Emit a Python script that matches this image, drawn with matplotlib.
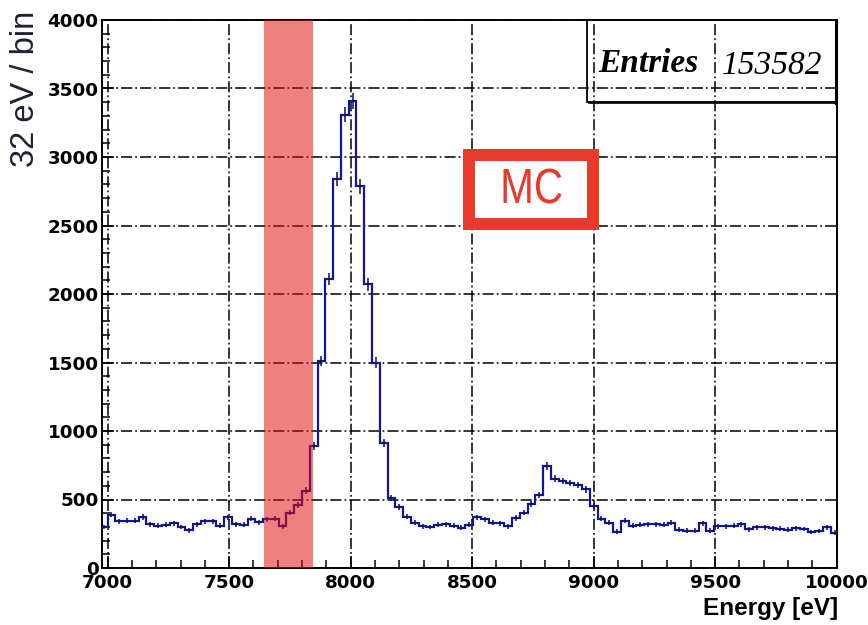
import numpy as np
import matplotlib
matplotlib.use("Agg")
from matplotlib import pyplot as plt
from matplotlib import patches
from matplotlib.ticker import MultipleLocator
from matplotlib.textpath import TextPath
from matplotlib.font_manager import FontProperties
from matplotlib.transforms import Affine2D

# histogram: 32 eV bins, first edge at 6968 eV
bin_width = 32
first_edge = 6968
counts = [300, 390, 340, 345, 345, 372, 320, 310, 315, 325,
          300, 275, 320, 340, 340, 310, 370, 320, 315, 360,
          335, 355, 360, 305, 405, 460, 565, 890, 1510, 2110,
          2840, 3310, 3410, 2785, 2070, 1500, 910, 510, 445, 375,
          330, 305, 300, 315, 320, 310, 295, 315, 370, 355,
          330, 328, 305, 365, 405, 465, 535, 745, 650, 635,
          620, 605, 575, 450, 360, 330, 265, 345, 310, 315,
          320, 320, 316, 330, 280, 272, 272, 325, 272, 305,
          305, 310, 320, 282, 296, 298, 290, 288, 280, 290,
          284, 262, 270, 296, 258]
entries = 153582
band = (7645, 7845)
x_range = (6977, 10000)
y_range = (0, 4000)

plt.rcParams['lines.scale_dashes'] = False

counts = np.array(counts, dtype=float)
edges = first_edge + bin_width * np.arange(len(counts) + 1)
centers = 0.5 * (edges[:-1] + edges[1:])

fig = plt.figure(figsize=(8.68, 6.25), dpi=100)
ax = fig.add_axes([102/868, 1 - 568/625, 734.7/868, 548/625])

line_col = '#14149a'
ax.stairs(counts, edges, baseline=None, color=line_col, lw=1.6, zorder=3)
ax.errorbar(centers, counts, yerr=np.sqrt(counts), fmt='none',
            ecolor='#101050', elinewidth=1.1, zorder=3)

# selected energy window
ax.axvspan(band[0], band[1], color='#e20f0f', alpha=0.53, lw=0, zorder=5)

ax.set_xlim(*x_range)
ax.set_ylim(*y_range)
ax.xaxis.set_major_locator(MultipleLocator(500))
ax.xaxis.set_minor_locator(MultipleLocator(100))
ax.yaxis.set_major_locator(MultipleLocator(500))
ax.yaxis.set_minor_locator(MultipleLocator(100))
ax.grid(True, which='major', color='black', lw=1.1,
        linestyle=(0, (8, 2.2, 1.3, 2.2)), zorder=1)
ax.set_axisbelow(True)

ax.tick_params(which='both', direction='in', top=False, right=False)
ax.tick_params(which='major', length=8.5, width=1.1)
ax.tick_params(which='minor', length=5.8, width=1.1)
ax.tick_params(axis='x', pad=4.5)
ax.tick_params(axis='y', pad=2.5)
for lab in ax.get_xticklabels() + ax.get_yticklabels():
    lab.set_fontfamily('DejaVu Sans')
    lab.set_fontweight('bold')
    lab.set_fontsize(13.2)
for sp in ax.spines.values():
    sp.set_linewidth(1.4)

fig.text(838/868, 1 - 609/625, 'Energy [eV]', ha='right', va='center',
         fontsize=17.5, fontweight='bold', family='Liberation Sans')
fig.text(26/868, 1 - 11/625, '32 eV / bin', ha='center', va='top',
         rotation=90, fontsize=23.5, family='Liberation Sans', color='#1c2230')

# stats box (transparent, grid shows through)
fig.patches.append(patches.Rectangle((587/868, 1 - 101.7/625), 249.7/868, 81.7/625,
                                     transform=fig.transFigure, fill=False,
                                     ec='black', lw=1.3))
fig.add_artist(plt.Line2D([836/868, 836/868], [1 - 103/625, 1 - 21/625],
                          transform=fig.transFigure, color='black', lw=2.2))
fig.add_artist(plt.Line2D([589/868, 836/868], [1 - 103/625, 1 - 103/625],
                          transform=fig.transFigure, color='black', lw=1.2))
fig.text(598/868, 1 - 72/625, 'Entries', ha='left', va='baseline',
         fontsize=24, family='Liberation Serif', style='italic', fontweight='bold')
fig.text(822/868, 1 - 73.5/625, f'{entries}', ha='right', va='baseline',
         fontsize=24, family='Liberation Serif', style='italic')

# MC label box
mc_col = '#e8392b'
fig.patches.append(patches.Rectangle((468.8/868, 1 - 224.2/625), 124/868, 68.7/625,
                                     transform=fig.transFigure, fc='white',
                                     ec=mc_col, lw=8.6, joinstyle='miter'))
# narrow "MC": squeeze the glyph outlines horizontally (pixel units)
tp = TextPath((0, 0), 'MC', size=48, prop=FontProperties(family='Liberation Sans'))
bb = tp.get_extents()
squeeze = Affine2D().translate(-(bb.x0 + bb.x1) / 2, -(bb.y0 + bb.y1) / 2) \
    .scale(58 / bb.width, 35 / bb.height).translate(532.5, 625 - 186)
fig.patches.append(patches.PathPatch(squeeze.transform_path(tp), fc=mc_col, lw=0,
                                     transform=None))

fig.savefig('out.png', dpi=100)
